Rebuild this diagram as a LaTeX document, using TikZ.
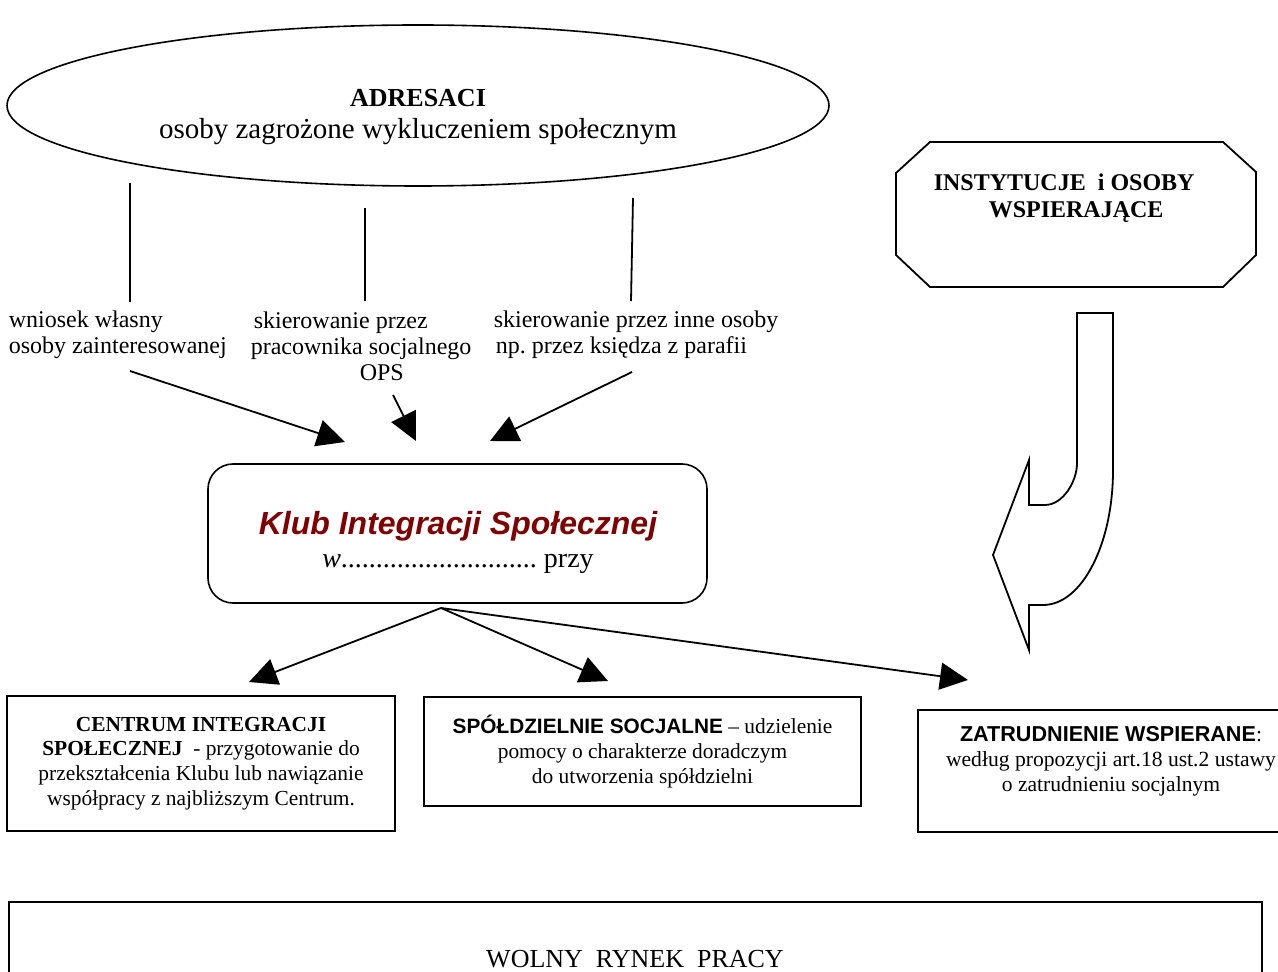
\documentclass[tikz,border=0pt]{standalone}
\usepackage{fontspec}
\setmainfont{Liberation Serif}
\setsansfont{Liberation Sans}
\usetikzlibrary{shapes.geometric,arrows.meta}
\definecolor{klubred}{RGB}{128,0,0}
\frenchspacing
\begin{document}
\begin{tikzpicture}[x=0.5pt,y=-0.5pt,line width=0.8pt,
  arr/.style={line width=0.9pt,-{Triangle[length=14pt,width=13.5pt]}},
  plain/.style={line width=0.9pt},
  lbl/.style={inner sep=0pt,font=\fontsize{12}{13}\selectfont,align=left},
  boxtxt/.style={draw,inner sep=0pt,align=center,font=\fontsize{10.7}{12.3}\selectfont},
  sfb/.style={font=\sffamily\bfseries}
]
\useasboundingbox (0,0) rectangle (1278,972);

% ADRESACI ellipse
\node[draw,ellipse,minimum width=411pt,minimum height=80.5pt,inner sep=0pt] (adr) at (418,105.5) {};
\node[inner sep=0pt,align=center,font=\fontsize{14.5}{16}\selectfont] (adrt) at (418,117.5)
  {{\fontsize{13}{16}\selectfont\bfseries ADRESACI}\\osoby zagrożone wykluczeniem społecznym};

% lines below ellipse
\coordinate (v1a) at (130,183); \coordinate (v1b) at (130,302);
\coordinate (v2a) at (365,208); \coordinate (v2b) at (365,301);
\coordinate (v3a) at (633,198); \coordinate (v3b) at (631,301);
\draw[plain] (v1a) -- (v1b);
\draw[line width=1.1pt] (v2a) -- (v2b);
\draw[plain] (v3a) -- (v3b);

% labels
\node[lbl,anchor=west] (l1) at (8,335) {wniosek własny\\osoby zainteresowanej};
\node[lbl,anchor=west] (l2) at (250,346) {\hspace*{1.5pt}skierowanie przez\\pracownika socjalnego\\\hspace*{54.5pt}OPS};
\node[lbl,anchor=west] (l3) at (493,335) {skierowanie przez inne osoby\\\hspace*{1pt}np. przez księdza z parafii};

% arrows into Klub
\coordinate (a1s) at (130,371); \coordinate (a1e) at (345,442);
\coordinate (a2s) at (393,395); \coordinate (a2e) at (416,441);
\coordinate (a3s) at (632,372); \coordinate (a3e) at (490,441);
\draw[arr] (a1s) -- (a1e);
\draw[arr] (a2s) -- (a2e);
\draw[arr] (a3s) -- (a3e);

% Klub box
\node[draw,rounded corners=12.5pt,minimum width=249.5pt,minimum height=69.5pt,inner sep=0pt] (klub) at (457.5,533.5) {};
\node[inner sep=0pt,align=center,font=\fontsize{14}{16.5}\selectfont] (klubt) at (458,542)
  {{\color{klubred}\sffamily\bfseries\itshape\fontsize{16}{16.5}\selectfont Klub Integracji Społecznej}\\\textit{w}............................ przy};

% outgoing arrows
\coordinate (kout) at (441,608);
\coordinate (t1) at (249,682);
\coordinate (t2) at (608,681);
\coordinate (t3) at (968,680);
\draw[arr] (kout) -- (t1);
\draw[arr] (kout) -- (t2);
\draw[arr] (kout) -- (t3);

% Institutions octagon
\draw[plain] (930,142) -- (1223,142) -- (1256,172) -- (1256,255) -- (1223,287)
  -- (930,287) -- (896,255) -- (896,173) -- cycle;
\node[inner sep=0pt,align=left,font=\fontsize{12}{13.5}\selectfont\bfseries,anchor=west] (inst) at (933,198)
  {INSTYTUCJE\ \ i OSOBY\\\hspace*{27.5pt}WSPIERAJĄCE};

% curved block arrow
\draw[plain,line join=miter] (1077,313) -- (1113,313) -- (1113,470)
  .. controls (1113,544.6) and (1081.7,605) .. (1043,605)
  -- (1029,605) -- (1029,650) -- (993,555) -- (1029,460) -- (1029,505) -- (1045,505)
  .. controls (1062.7,505) and (1077,481.8) .. (1077,463) -- cycle;

% bottom boxes
\node[boxtxt,minimum width=194pt,minimum height=67.5pt] (cis) at (201,763.5)
  {\textbf{CENTRUM INTEGRACJI}\\\textbf{SPOŁECZNEJ}\ \ - przygotowanie do\\przekształcenia Klubu lub nawiązanie\\współpracy z najbliższym Centrum.};
\node[boxtxt,minimum width=218.5pt,minimum height=54.5pt] (spo) at (642.5,751.5)
  {{\sffamily\bfseries\fontsize{10.4}{12.3}\selectfont SPÓŁDZIELNIE SOCJALNE} – udzielenie\\pomocy o charakterze doradczym\\do utworzenia spółdzielni};

\draw (1280,710) -- (918,710) -- (918,832) -- (1280,832);
\node[inner sep=0pt,align=center,font=\fontsize{10.8}{12.5}\selectfont] (zat) at (1111,761)
  {{\sffamily\bfseries ZATRUDNIENIE WSPIERANE}:\\według propozycji art.18 ust.2 ustawy\\o zatrudnieniu socjalnym};

% free labour market
\draw (9,980) -- (9,902) -- (1262,902) -- (1262,980);
\node[inner sep=0pt,font=\fontsize{13}{15}\selectfont] (rynek) at (635,959) {WOLNY\ \ RYNEK\ \ PRACY};
\end{tikzpicture}
\end{document}
